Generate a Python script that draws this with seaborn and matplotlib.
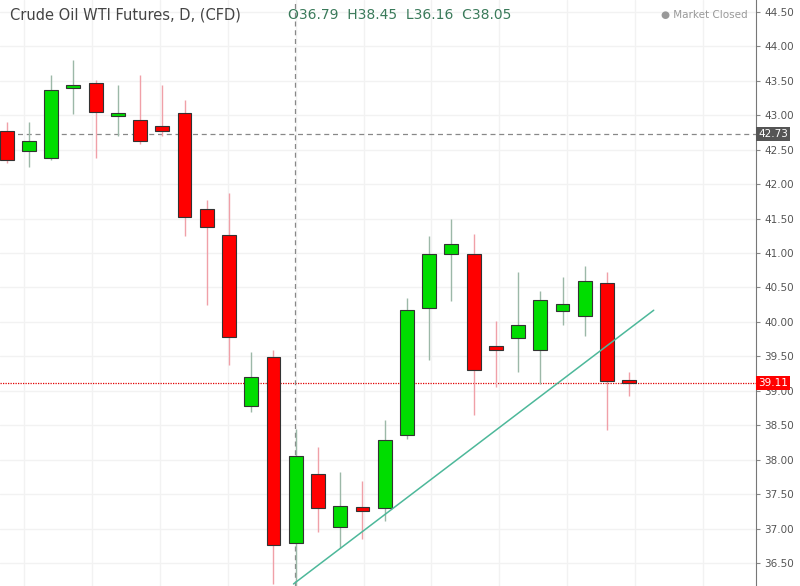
import numpy as np
import pandas as pd
import seaborn as sns
import matplotlib.pyplot as plt

# daily OHLC
opens = [42.77, 42.48, 42.38, 43.40, 43.47, 42.99, 42.93, 42.84, 43.03, 41.64, 41.26, 38.78, 39.49, 36.79,
         37.80, 37.03, 37.32, 37.30, 38.36, 40.20, 40.99, 40.99, 39.65, 39.77, 39.60, 40.16, 40.09, 40.57, 39.13]
highs = [42.90, 42.90, 43.58, 43.80, 43.51, 43.43, 43.58, 43.44, 43.22, 41.77, 41.87, 39.57, 39.60, 38.45,
         38.19, 37.82, 37.70, 38.58, 40.35, 41.24, 41.50, 41.28, 40.02, 40.73, 40.45, 40.65, 40.81, 40.72, 39.27]
lows = [42.30, 42.25, 42.35, 43.02, 42.38, 42.70, 42.58, 42.70, 41.25, 40.25, 39.38, 38.70, 36.20, 36.16,
        36.95, 36.72, 36.85, 37.12, 38.30, 39.45, 40.30, 38.65, 39.05, 39.28, 39.10, 39.95, 39.80, 38.43, 38.92]
closes = [42.35, 42.63, 43.37, 43.40, 43.05, 42.99, 42.63, 42.77, 41.52, 41.38, 39.78, 39.20, 36.77, 38.05,
          37.30, 37.33, 37.26, 38.29, 40.17, 40.99, 41.13, 39.30, 39.60, 39.96, 40.32, 40.26, 40.60, 39.14, 39.12]
trend_x = [12.9, 29.1]
trend_y = [36.20, 40.17]
last_close = 39.11
ref_level = 42.73
y_ticks = [36.5, 37.0, 37.5, 38.0, 38.5, 39.0, 39.5, 40.0, 40.5, 41.0, 41.5, 42.0, 42.5, 43.0, 43.5, 44.0, 44.5]

df = pd.DataFrame({"open": opens, "high": highs, "low": lows, "close": closes})
df["i"] = np.arange(len(df))
df["up"] = df["close"] >= df["open"]

sns.set_style("white")
plt.rcParams["font.family"] = ["DejaVu Sans"]

fig = plt.figure(figsize=(8, 5.86), dpi=100)
ax = fig.add_axes([0, 0, 0.945, 1])

for y in y_ticks:
    ax.axhline(y, color="#f2f2f2", lw=1, zorder=0)
for x in np.arange(0.8, 34, 3.05):
    ax.axvline(x, color="#f2f2f2", lw=1, zorder=0)

body_col = np.where(df["up"], "#00dd00", "#ff0000")
wick_col = np.where(df["up"], "#9cb8a8", "#f0a0a8")
ax.vlines(df["i"], df["low"], df["high"], colors=wick_col, lw=1, zorder=2)
bottoms = df[["open", "close"]].min(axis=1)
heights = (df["close"] - df["open"]).abs().clip(lower=0.04)
ax.bar(df["i"], heights, bottom=bottoms, width=0.62, color=body_col,
       edgecolor="#333333", linewidth=0.8, zorder=3)

sns.lineplot(x=trend_x, y=trend_y, ax=ax, color="#4db89a", lw=1.1, zorder=4)

ax.axhline(ref_level, color="#888888", ls=(0, (4, 3)), lw=0.9, zorder=1)
ax.axhline(last_close, color="#e00000", ls=(0, (1, 1)), lw=0.9, zorder=1)
ax.axvline(12.95, color="#888888", ls=(0, (4, 3)), lw=0.9, zorder=1)

ax.set_xlim(-0.3, 33.7)
ax.set_ylim(36.17, 44.67)
ax.set_xticks([])
ax.yaxis.tick_right()
ax.set_yticks(y_ticks)
ax.set_yticklabels([f"{v:.2f}" for v in y_ticks], fontsize=7.5, color="#555555")
ax.tick_params(axis="y", length=3, color="#888888", pad=3)
for s in ["top", "left", "bottom"]:
    ax.spines[s].set_visible(False)
ax.spines["right"].set_color("#777777")

ax.text(1.003, (ref_level - 36.17) / 8.5, f"{ref_level:.2f}", transform=ax.transAxes, fontsize=7.5,
        color="white", va="center", ha="left",
        bbox=dict(boxstyle="square,pad=0.2", fc="#555555", ec="none"))
ax.text(1.003, (last_close - 36.17) / 8.5, f"{last_close:.2f}", transform=ax.transAxes, fontsize=7.5,
        color="white", va="center", ha="left",
        bbox=dict(boxstyle="square,pad=0.2", fc="#ff0000", ec="none"))

fig.text(0.013, 0.975, "Crude Oil WTI Futures, D, (CFD)", fontsize=10.5, color="#444444", va="center")
fig.text(0.36, 0.975, "O36.79  H38.45  L36.16  C38.05", fontsize=10, color="#3a7a5a", va="center")
fig.text(0.935, 0.975, "● Market Closed", fontsize=7.5, color="#999999", va="center", ha="right")

fig.savefig("out.png", dpi=100)
